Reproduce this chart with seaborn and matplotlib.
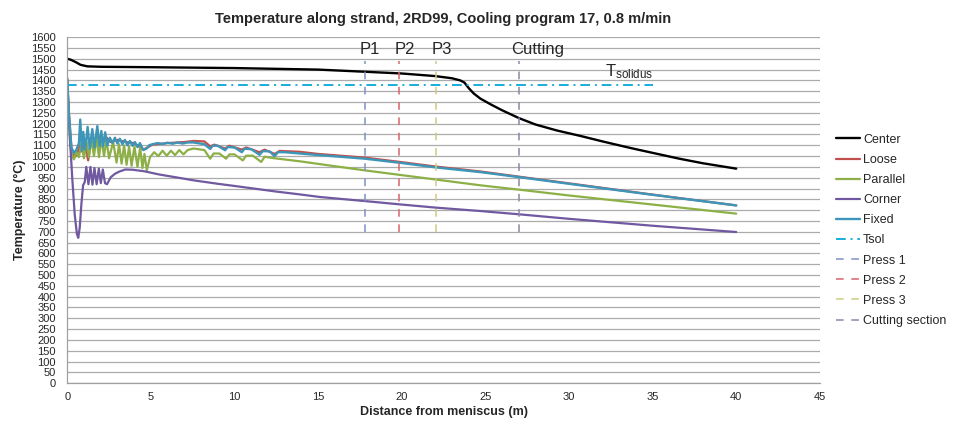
import pandas as pd
import seaborn as sns
import matplotlib.pyplot as plt

# Values (distance in m, temperature in °C)
center_x = [0, 0.2, 0.5, 0.8, 1.2, 2, 5, 10, 15, 17.8, 20, 22, 23, 23.5, 23.75, 24.0, 24.3, 24.7,
            25.3, 26, 27, 28, 29.3, 30.7, 32, 33.65, 35, 36.6, 38, 40]
center_t = [1500, 1496, 1485, 1472, 1465, 1463, 1461, 1457, 1450, 1440, 1432, 1420, 1410, 1400, 1390,
            1365, 1340, 1316, 1290, 1262, 1226, 1196, 1168, 1143, 1118, 1088, 1065, 1038, 1017, 992]

loose_x = [0, 0.1, 0.25, 0.45, 0.6, 0.75, 0.9, 1.05, 1.25, 1.4, 1.6, 1.8, 2.0, 2.3, 2.6, 3.0, 3.5, 4.0,
           4.55, 4.8, 5.1, 6.0, 7.0, 7.55, 8.2, 8.55, 8.8, 9.44, 9.7, 10.44, 10.7, 11.5, 11.8, 12.4,
           12.7, 13.9, 15, 17.8, 20, 22, 24.7, 27, 30, 35, 40]
loose_t = [1410, 1250, 1090, 1045, 1060, 1100, 1070, 1120, 1030, 1110, 1100, 1150, 1100, 1140, 1115,
           1125, 1115, 1110, 1080, 1090, 1103, 1110, 1115, 1120, 1118, 1095, 1103, 1085, 1098, 1080,
           1090, 1068, 1080, 1060, 1074, 1070, 1060, 1043, 1022, 1002, 979, 955, 924, 872, 822]

parallel_x = [0, 0.1, 0.25, 0.4, 0.55, 0.7, 0.85, 1.0, 1.15, 1.3, 1.45, 1.6, 1.75, 1.9, 2.05, 2.2,
              2.35, 2.5, 2.75, 2.95, 3.1, 3.25, 3.4, 3.55, 3.7, 3.85, 4.02, 4.2, 4.36, 4.5, 4.62,
              4.76, 4.95, 5.2, 5.45, 5.7, 5.95, 6.2, 6.45, 6.7, 6.95, 7.2, 7.55, 8.2, 8.55, 8.75,
              9.1, 9.5, 9.7, 10.0, 10.5, 10.7, 11.1, 11.6, 11.8, 12.4, 13.9, 15.1, 17.8, 20, 22,
              24.7, 27, 30, 35, 40]
parallel_t = [1400, 1200, 1060, 1035, 1070, 1045, 1110, 1040, 1120, 1045, 1130, 1050, 1135, 1045,
              1130, 1050, 1125, 1040, 1115, 1020, 1105, 1015, 1100, 1010, 1095, 1005, 1095, 1000,
              1090, 995, 1060, 984, 1045, 1068, 1050, 1075, 1052, 1075, 1055, 1078, 1058, 1078, 1085,
              1078, 1038, 1062, 1062, 1038, 1058, 1058, 1030, 1052, 1052, 1023, 1047, 1040, 1026,
              1013, 984, 962, 942, 915, 895, 868, 826, 784]

corner_x = [0, 0.15, 0.3, 0.45, 0.58, 0.66, 0.75, 0.85, 0.95, 1.05, 1.14, 1.27, 1.39, 1.51, 1.63,
            1.76, 1.89, 2.01, 2.13, 2.26, 2.38, 2.6, 2.85, 3.1, 3.47, 3.9, 4.6, 5.5, 6.5, 7.55, 9,
            10, 12.5, 13.9, 15.1, 17.8, 20, 22, 24.7, 27, 30, 35, 40]
corner_t = [1400, 1150, 950, 780, 690, 672, 720, 830, 915, 930, 1000, 920, 1000, 918, 995, 920,
            992, 925, 988, 925, 920, 952, 968, 978, 988, 987, 980, 965, 952, 938, 922, 912, 886,
            873, 861, 842, 826, 812, 796, 781, 760, 728, 699]

fixed_x = [0, 0.1, 0.25, 0.4, 0.55, 0.7, 0.78, 0.88, 0.96, 1.08, 1.22, 1.35, 1.5, 1.63, 1.8, 1.93,
           2.04, 2.15, 2.27, 2.4, 2.55, 2.7, 2.85, 3.0, 3.15, 3.3, 3.45, 3.6, 3.75, 3.9, 4.05, 4.2,
           4.35, 4.55, 4.75, 4.9, 5.1, 5.4, 5.7, 6.0, 6.3, 6.6, 6.9, 7.2, 7.55, 8.2, 8.55, 8.7, 9.0,
           9.44, 9.6, 10.0, 10.44, 10.6, 11.0, 11.5, 11.7, 12.1, 12.4, 12.6, 13.0, 13.9, 15, 17.8,
           20, 22, 24.7, 27, 30, 35, 40]
fixed_t = [1410, 1250, 1090, 1065, 1080, 1110, 1219, 1075, 1162, 1080, 1185, 1085, 1175, 1090, 1189,
           1095, 1166, 1095, 1160, 1100, 1135, 1110, 1135, 1108, 1130, 1105, 1125, 1100, 1120, 1098,
           1115, 1092, 1110, 1078, 1085, 1100, 1105, 1110, 1106, 1112, 1107, 1113, 1108, 1113, 1113,
           1105, 1083, 1098, 1098, 1077, 1092, 1090, 1068, 1084, 1082, 1056, 1073, 1072, 1050, 1068,
           1068, 1062, 1055, 1038, 1018, 998, 976, 953, 922, 871, 822]

tsol_x = [0, 35]
tsol_t = [1380, 1380]

# press positions and cutting section (vertical markers)
press_labels = ['Press 1', 'Press 2', 'Press 3', 'Cutting section']
press_pos = [17.8, 19.85, 22.05, 27.0]
press_span = [700, 1490]
press_text = ['P1', 'P2', 'P3', 'Cutting']

# colours
series_colors = {'Center': 'black', 'Loose': '#C0504D', 'Parallel': '#8DB046',
                 'Corner': '#7059A0', 'Fixed': '#3D96B8'}
tsol_color = '#1AACDB'
press_colors = ['#7F90C4', '#D9646C', '#CDCB84', '#8A86A6']

sns.set_theme(style="white")
plt.rcParams['font.family'] = ['Liberation Sans', 'DejaVu Sans']
plt.rcParams['mathtext.default'] = 'regular'

fig, ax = plt.subplots(figsize=(9.6, 4.32), dpi=100)
fig.subplots_adjust(left=0.07, right=0.854, bottom=0.113, top=0.914)

''' temperature curves '''
curves = [('Center', center_x, center_t, 1.7),
          ('Loose', loose_x, loose_t, 1.6),
          ('Parallel', parallel_x, parallel_t, 1.6),
          ('Corner', corner_x, corner_t, 1.6),
          ('Fixed', fixed_x, fixed_t, 1.7)]
for name, xs, ts, lw in curves:
    df = pd.DataFrame({'x': xs, 't': ts})
    sns.lineplot(data=df, x='x', y='t', color=series_colors[name], lw=lw, label=name,
                 estimator=None, sort=False, ax=ax)

# solidus temperature line
df_tsol = pd.DataFrame({'x': tsol_x, 't': tsol_t})
sns.lineplot(data=df_tsol, x='x', y='t', color=tsol_color, lw=1.4, label='Tsol',
             estimator=None, sort=False, ax=ax)
ax.lines[-1].set_dashes((5, 2.5, 1, 2.5))

# vertical press / cutting markers
for lab, pos, col in zip(press_labels, press_pos, press_colors):
    df_p = pd.DataFrame({'x': [pos, pos], 't': press_span})
    sns.lineplot(data=df_p, x='x', y='t', color=col, lw=1.1, label=lab,
                 estimator=None, sort=False, ax=ax)
    ax.lines[-1].set_dashes((5, 5))

# text labels above the markers
text_x = [18.1, 20.2, 22.4, 28.1]
for txt, tx in zip(press_text, text_x):
    ax.text(tx, 1545, txt, fontsize=12, ha='center', va='center')
ax.text(33.6, 1440, '$T_{solidus}$', fontsize=12, ha='center', va='center')

ax.set_xlim(0, 45)
ax.set_ylim(0, 1600)
ax.set_xticks(range(0, 46, 5))
ax.set_yticks(range(0, 1601, 50))
ax.tick_params(axis='both', length=0, labelsize=8)
ax.tick_params(axis='y', pad=8)
ax.tick_params(axis='x', pad=6)
ax.grid(axis='y', color='#ABABAB', lw=0.9)
ax.set_axisbelow(True)
for side in ['top', 'right']:
    ax.spines[side].set_visible(False)
for side in ['left', 'bottom']:
    ax.spines[side].set_color('#A0A0A0')
    ax.spines[side].set_linewidth(0.9)

ax.set_title('Temperature along strand, 2RD99, Cooling program 17, 0.8 m/min',
             fontsize=10.5, fontweight='bold', pad=10)
ax.set_xlabel('Distance from meniscus (m)', fontsize=9, fontweight='bold', labelpad=3)
ax.set_ylabel('Temperature (°C)', fontsize=9, fontweight='bold', labelpad=4)

ax.legend(loc='upper left', bbox_to_anchor=(1.015, 0.735), frameon=False, fontsize=9,
          handlelength=1.9, handletextpad=0.25, labelspacing=0.65, borderaxespad=0)

plt.savefig('out.png', dpi=100)
